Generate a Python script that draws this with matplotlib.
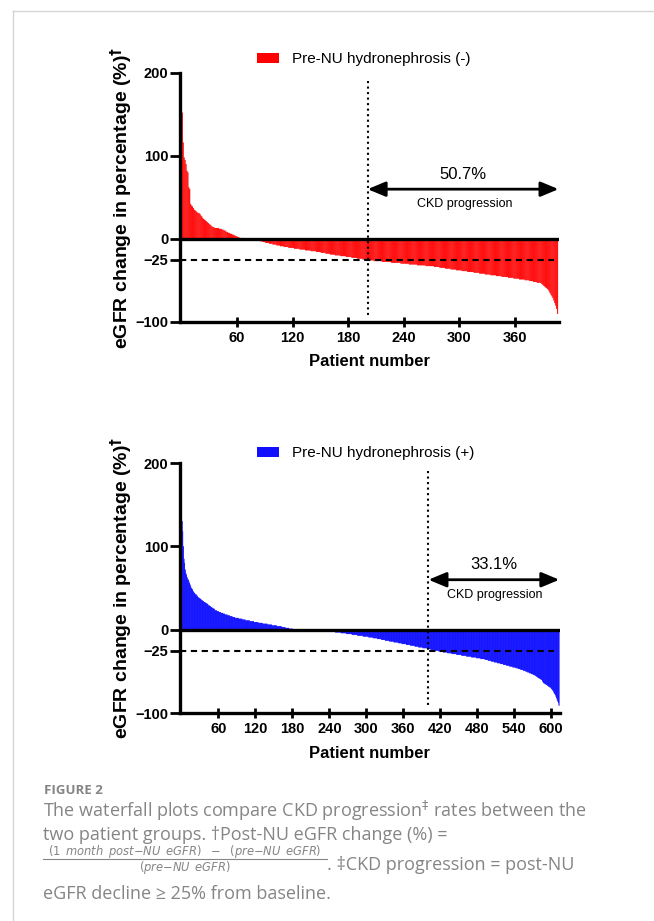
import matplotlib
matplotlib.use('Agg')
import matplotlib.pyplot as plt
import numpy as np
from matplotlib.patches import Patch
from matplotlib.lines import Line2D

plt.rcParams['font.family'] = ['Liberation Sans', 'DejaVu Sans']
plt.rcParams['mathtext.fontset'] = 'dejavusans'

# sorted eGFR change (%) per patient, stored as value + run length
neg_vals = [152, 116, 98, 95, 90, 82, 80, 62, 60, 42,
            40, 39, 37, 35, 34, 33, 32, 31, 30,
            28, 27, 25, 24, 23, 22, 21, 20, 19, 18,
            17, 16, 15, 14, 13, 12, 11, 10, 9, 8, 7, 6, 5, 4, 3, 2, 1,
            0.5, 0.2, -0.5, -1.5, -2.5, -3.5, -4.5, -5.5, -6.5, -7.5, -8.5, -9.5,
            -10.5, -11.5, -12.5, -13.5, -14.5, -15.5, -16.5, -17.5, -18.5, -19.5,
            -20.5, -21.5, -22.5, -23.5, -24.5,
            -25.5, -26.5, -27.5, -28.5, -29.5, -30.5, -31.5, -32.5, -33.5, -34.5,
            -35.5, -36.5, -37.5, -38.5, -39.5, -40.5, -41.5, -42.5, -43.5, -44.5,
            -45.5, -46.5, -47.5, -48.5, -49.5, -50.5, -51.5, -52.5,
            -53, -54, -55, -56, -57, -58, -59, -60, -61, -63, -65, -67, -69, -71,
            -74, -77, -80, -84, -90]
neg_runs = [1] * 10 + \
           [1, 1, 1, 1, 1, 1, 1, 2, 1] + \
           [1] * 10 + \
           [1, 1, 1, 2, 5, 3, 2, 2, 1, 2, 2, 2, 2, 2, 2, 2, 4] + \
           [6, 5, 5, 2, 3, 3, 4, 4, 4, 4, 4, 5] + \
           [6, 6, 6, 6, 6, 5, 5, 5, 5, 6] + \
           [6, 6, 6, 6, 5] + \
           [7, 9, 10, 10, 9, 9, 9, 9, 6, 6] + \
           [6, 6, 6, 6, 7, 6, 6, 6, 6, 6] + \
           [7, 6, 6, 6, 5, 4, 4, 4] + \
           [1] * 19

pos_vals = [130, 118, 100, 85, 80, 72, 68, 66, 63, 61, 60, 58,
            56, 54, 52, 50, 49, 48, 46, 45, 44, 43, 42,
            41, 40, 39, 38, 37, 36,
            35, 34, 33, 32, 31, 30, 29, 28, 27, 26, 25, 24,
            23, 22, 21, 20, 19, 18, 17, 16, 15, 14, 13, 12, 11, 10, 9,
            8, 7, 6, 5, 4, 3, 2, 1, 0.3, -0.3,
            -1, -2, -3, -4, -5, -6, -7, -8, -9, -10, -11, -12,
            -13, -14, -15, -16, -17, -18, -19, -20, -21, -22, -23, -24,
            -25, -26, -27, -28, -29, -30, -31, -32, -33, -34, -35,
            -36, -37, -38, -39, -40, -41, -42, -43, -44, -45, -46,
            -47, -48, -49, -50, -51, -52, -53, -54,
            -55, -56, -57, -58, -59, -60, -62, -64,
            -65, -66, -67, -68, -69, -70, -71, -72, -73, -74, -76, -77, -78,
            -80, -82, -84, -86, -88, -91]
pos_runs = [1] * 12 + \
           [1] * 10 + [2] + \
           [1, 1, 1, 2, 2, 1] + \
           [2, 2, 2, 2, 2, 1, 2, 2, 2, 2, 2, 1] + \
           [3, 3, 3, 4, 3, 4, 4, 4, 4, 6, 6, 5, 7, 7, 7] + \
           [7, 8, 7, 8, 8, 6, 6, 6, 30, 28] + \
           [5, 6, 9, 9, 9, 9, 9, 9, 7, 7, 7, 6] + \
           [7, 7, 7, 6, 7, 7, 7, 6, 7, 7, 6, 6] + \
           [7, 7, 7, 7, 8, 8, 8, 8, 8, 7, 7] + \
           [5] * 10 + [4] + \
           [4, 4, 4, 3, 3, 3, 3, 3] + \
           [2] * 8 + \
           [2, 2, 2, 2, 2] + [1] * 14

neg_label = 'Pre-NU hydronephrosis (-)'
pos_label = 'Pre-NU hydronephrosis (+)'
neg_pct = '50.7%'
pos_pct = '33.1%'
neg_cut = 201
pos_cut = 401
neg_xticks = [60, 120, 180, 240, 300, 360]
pos_xticks = [60, 120, 180, 240, 300, 360, 420, 480, 540, 600]
y_ticks = [-100, -25, 0, 100, 200]

fig = plt.figure(figsize=(6.54, 9.21), dpi=100)


def waterfall(ax, vals, runs, color, label, cut, pct, xlim, arrow_end, dash_end,
              xticks, leg_y):
    h = np.repeat(vals, runs)
    x = np.arange(1, len(h) + 1)
    ax.bar(x, h, width=0.7, color=color, edgecolor=color, linewidth=0.3,
           snap=False, zorder=2)
    ax.axhline(0, color='black', lw=2.4, zorder=3)
    ax.plot([xlim[0], dash_end], [-25, -25], color='black', lw=1.5, dashes=(3, 2.2),
            zorder=4)
    ax.plot([cut, cut], [190, -91], color='black', lw=1.5, ls=':', zorder=4)
    ax.annotate('', xy=(arrow_end, 60), xytext=(cut, 60),
                arrowprops=dict(arrowstyle='<|-|>,head_length=0.6,head_width=0.25',
                                color='black', lw=2, mutation_scale=18,
                                shrinkA=0, shrinkB=0))
    mid = (cut + arrow_end) / 2
    ax.text(mid, 78, pct, ha='center', va='center', fontsize=12)
    ax.text(mid + 2, 42, 'CKD progression', ha='center', va='center', fontsize=9)

    ax.legend(handles=[Patch(facecolor=color, label=label)], loc='center left',
              bbox_to_anchor=(0.203, leg_y), frameon=False, fontsize=11,
              handlelength=1.45, handleheight=0.65, handletextpad=0.85,
              borderpad=0, borderaxespad=0)

    ax.set_xlim(*xlim)
    ax.set_ylim(-100, 200)
    ax.set_xticks(xticks)
    ax.set_yticks(y_ticks)
    ax.tick_params(axis='x', direction='inout', length=7, width=2, pad=3, labelsize=10.5)
    ax.tick_params(axis='y', direction='out', length=7, width=2, pad=1.5, labelsize=10.5)
    for t in ax.get_xticklabels() + ax.get_yticklabels():
        t.set_fontweight('bold')
    for s in ['top', 'right']:
        ax.spines[s].set_visible(False)
    for s in ['left', 'bottom']:
        ax.spines[s].set_linewidth(2.4)

    ax.set_ylabel(r'eGFR change in percentage (%)$^{\mathbf{\dag}}$',
                  fontsize=14, fontweight='bold')
    ax.yaxis.set_label_coords(-0.121, 0.5)
    ax.set_xlabel('Patient number', fontsize=12, fontweight='bold')
    ax.xaxis.set_label_coords(0.5, -0.13)


ax1 = fig.add_axes([0.2752, 0.6504, 0.5795, 0.2704])
waterfall(ax1, neg_vals, neg_runs, '#ff0000', neg_label, neg_cut, neg_pct,
          (-1.5, 407.5), 407, 402, neg_xticks, 1.056)

ax2 = fig.add_axes([0.2752, 0.2258, 0.581, 0.2714])
waterfall(ax2, pos_vals, pos_runs, '#1010ff', pos_label, pos_cut, pos_pct,
          (-2.5, 614.5), 613.5, 605, pos_xticks, 1.04)

# page frame lines
fig.add_artist(Line2D([13 / 654, 13 / 654], [0, 1 - 11 / 921], color='#d5d5d5', lw=1))
fig.add_artist(Line2D([13 / 654, 1], [1 - 11 / 921, 1 - 11 / 921], color='#d5d5d5', lw=1))

# caption
gray = '#858585'
cap = dict(family=['Open Sans', 'DejaVu Sans'], color=gray, va='baseline')
fig.text(44 / 654, 1 - 794 / 921, 'FIGURE 2', fontsize=9.5, fontweight='bold', **cap)
fig.text(43 / 654, 1 - 817 / 921,
         r'The waterfall plots compare CKD progression$^{\ddag}$ rates between the',
         fontsize=13, **cap)
fig.text(43 / 654, 1 - 840 / 921, 'two patient groups. \u2020Post-NU eGFR change (%) =',
         fontsize=13, **cap)
# the eGFR change formula as a small stacked fraction
fig.text(185 / 654, 1 - 855 / 921,
         r'$(1\ \,month\ \,post{-}NU\ \,eGFR)\ \ -\ \ (pre{-}NU\ \,eGFR)$',
         fontsize=8.3, ha='center', **cap)
fig.add_artist(Line2D([43 / 654, 327 / 654], [1 - 858.5 / 921, 1 - 858.5 / 921],
                      color=gray, lw=0.8))
fig.text(185 / 654, 1 - 871 / 921, r'$(pre{-}NU\ \,eGFR)$',
         fontsize=8.3, ha='center', **cap)
fig.text(327 / 654, 1 - 870 / 921, '. \u2021CKD progression = post-NU',
         fontsize=13, **cap)
fig.text(43 / 654, 1 - 899 / 921, 'eGFR decline \u2265 25% from baseline.',
         fontsize=13, **cap)

fig.savefig('out.png', dpi=100, facecolor='white')
